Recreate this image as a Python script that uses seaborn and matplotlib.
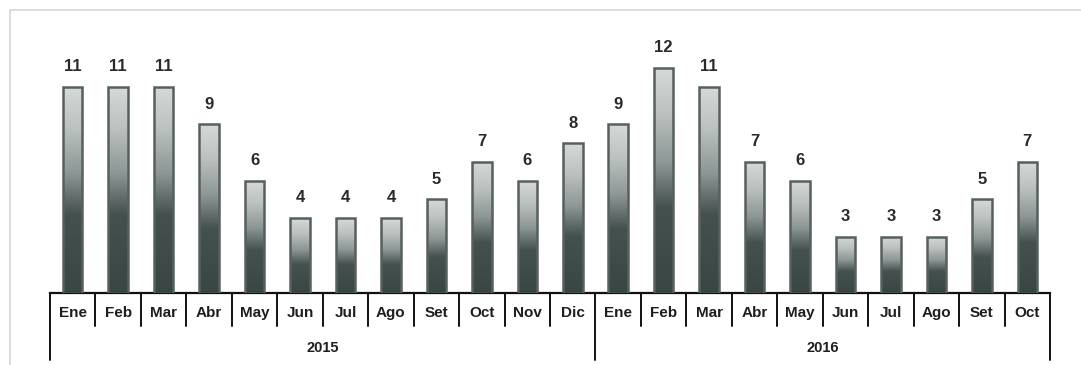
import numpy as np
import pandas as pd
import matplotlib
matplotlib.use("Agg")
import matplotlib.pyplot as plt
from matplotlib.colors import LinearSegmentedColormap
from matplotlib.patches import Rectangle
import seaborn as sns

months = ["Ene", "Feb", "Mar", "Abr", "May", "Jun", "Jul", "Ago", "Set", "Oct", "Nov", "Dic",
          "Ene", "Feb", "Mar", "Abr", "May", "Jun", "Jul", "Ago", "Set", "Oct"]
years = ["2015"] * 12 + ["2016"] * 10
values = [11, 11, 11, 9, 6, 4, 4, 4, 5, 7, 6, 8,
          9, 12, 11, 7, 6, 3, 3, 3, 5, 7]
year_labels = ["2015", "2016"]

df = pd.DataFrame({"pos": [f"{y}-{m}" for y, m in zip(years, months)],
                   "month": months, "year": years, "value": values})

sns.set_theme(style="white")
plt.rcParams["font.family"] = ["Liberation Sans", "DejaVu Sans"]

W, H = 1081, 365
fig = plt.figure(figsize=(W / 100, H / 100), dpi=100)
fig.patch.set_facecolor("white")

# outer frame
fig.patches.append(Rectangle((10 / W, -0.05), 1.2, (H - 10) / H + 0.05,
                             transform=fig.transFigure, fill=False,
                             edgecolor="#d4d6d6", linewidth=1.2))

left, right = 50 / W, 1050 / W
bottom = (H - 293) / H
ymax = 14.5
height_px = ymax * 18.75
ax = fig.add_axes([left, bottom, right - left, height_px / H])

sns.barplot(data=df, x="pos", y="value", ax=ax, width=0.43,
            color="#8a9492", edgecolor="#56605e", linewidth=1.8, zorder=2)

# vertical gradient inside each bar
cmap = LinearSegmentedColormap.from_list(
    "steel", [(0.0, "#3a4644"), (0.38, "#45514f"), (0.58, "#8d9795"),
              (0.8, "#bcc2c0"), (1.0, "#d6dad8")])
grad = np.linspace(0, 1, 256).reshape(-1, 1)
for bar in ax.patches:
    x0, y0 = bar.get_x(), bar.get_y()
    w, h = bar.get_width(), bar.get_height()
    im = ax.imshow(grad, cmap=cmap, origin="lower", aspect="auto",
                   extent=[x0, x0 + w, y0, y0 + h], zorder=2.5,
                   interpolation="bilinear")
    im.set_clip_path(bar)
    bar.set_facecolor("none")
    bar.set_zorder(3)
ax.set_xlim(-0.5, len(values) - 0.5)
ax.set_ylim(0, ymax)

# value labels
for bar, v in zip(ax.patches, values):
    ax.annotate(str(v), (bar.get_x() + bar.get_width() / 2, bar.get_height()),
                xytext=(0, 9), textcoords="offset points", ha="center",
                va="bottom", fontsize=12, fontweight="bold", color="#2a2a2a")

# axes styling
for s in ["left", "right", "top"]:
    ax.spines[s].set_visible(False)
ax.spines["bottom"].set_color("#111111")
ax.spines["bottom"].set_linewidth(1.6)
ax.set_yticks([])
ax.set_xticks([])
ax.set_xlabel("")
ax.set_ylabel("")

trans = ax.get_xaxis_transform()
px = 1 / height_px  # one pixel in axes fraction

# month labels and separators
for i, m in enumerate(months):
    ax.text(i, -20 * px, m, transform=trans, ha="center", va="center",
            fontsize=11, fontweight="bold", color="#1e1e1e")
n = len(values)
year_edges = [-0.5, 11.5, n - 0.5]
for k in range(n + 1):
    xb = k - 0.5
    depth = 67 if xb in year_edges else 33
    ax.plot([xb, xb], [0, -depth * px], transform=trans, color="#111111",
            linewidth=1.4, clip_on=False)

# year labels
for j, yl in enumerate(year_labels):
    center = (year_edges[j] + year_edges[j + 1]) / 2
    ax.text(center, -55 * px, yl, transform=trans, ha="center", va="center",
            fontsize=10.5, fontweight="bold", color="#1e1e1e")

fig.savefig("out.png", dpi=100, facecolor="white")
